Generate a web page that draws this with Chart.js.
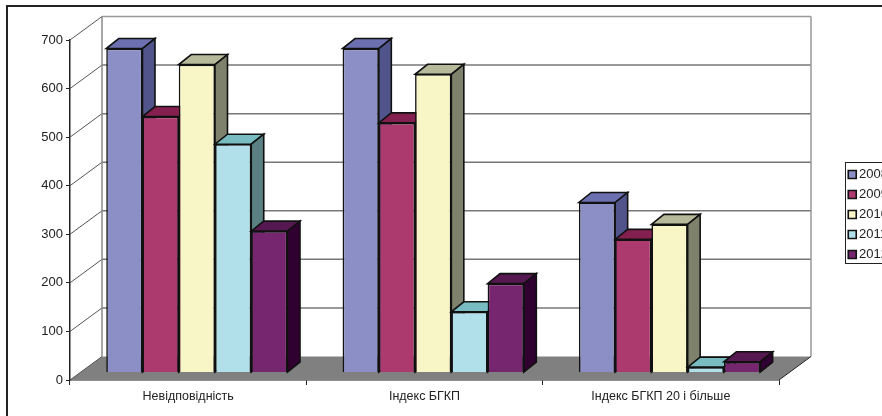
<!DOCTYPE html>
<html>
<head>
<meta charset="utf-8">
<style>
    html, body { margin: 0; height: 100%; background: #fff; overflow: hidden; }
    canvas { position: absolute; left: 0; top: 0; }
</style>
<script src="https://cdn.jsdelivr.net/npm/chart.js@4"></script>
</head>
<body>
<canvas id="indexChart" width="930" height="416"></canvas>
<script>
// =========================
// Data
// =========================

const categories = ['Невідповідність', 'Індекс БГКП', 'Індекс БГКП 20 і більше'];
const years = ['2008', '2009', '2010', '2011', '2012'];

const values2008 = [667, 667, 350];
const values2009 = [527, 514, 274];
const values2010 = [634, 614, 305];
const values2011 = [470, 125, 11];
const values2012 = [291, 183, 22];
const seriesValues = [values2008, values2009, values2010, values2011, values2012];

const yMax = 700;
const yStep = 100;

const frontColors = ['#8C8FC5', '#AD3A6F', '#F8F5C6', '#B1E0EB', '#76266F'];
const topColors = ['#6C6FB0', '#842050', '#B6B99A', '#78BCC1', '#561850'];
const sideColors = ['#50548A', '#5E1239', '#7E816B', '#5A8083', '#300030'];

// depth of the back wall and of one bar, in pixels
const wallDx = 32;
const wallDy = -23.5;
const barDx = 12.5;
const barDy = -10;
// bars stand part way between the front edge and the wall
const barShiftX = 8.7;
const barShiftY = -7.5;

function face(ctx, points, fill, stroke, lineWidth) {
    ctx.beginPath();
    points.forEach((p, i) => i ? ctx.lineTo(p[0], p[1]) : ctx.moveTo(p[0], p[1]));
    ctx.closePath();
    if (fill) {
        ctx.fillStyle = fill;
        ctx.fill();
    }
    if (stroke) {
        ctx.strokeStyle = stroke;
        ctx.lineWidth = lineWidth;
        ctx.stroke();
    }
}

function line(ctx, x1, y1, x2, y2, color, width) {
    ctx.beginPath();
    ctx.moveTo(x1, y1);
    ctx.lineTo(x2, y2);
    ctx.strokeStyle = color;
    ctx.lineWidth = width;
    ctx.stroke();
}

// =========================
// Walls, floor and 3D bars
// =========================

const box3d = {
    id: 'box3d',
    beforeDraw(chart) {
        const ctx = chart.ctx;
        ctx.save();
        ctx.strokeStyle = '#222';
        ctx.lineWidth = 2;
        ctx.strokeRect(7, 6, 1000, 600);
        ctx.restore();
    },
    afterLayout(chart) {
        // legend sits to the right of the plot
        const legend = chart.legend;
        legend.left = 845;
        legend.right = 945;
        legend.top = 161;
        legend.bottom = 416;
    },
    beforeDatasetsDraw(chart) {
        const ctx = chart.ctx;
        const area = chart.chartArea;
        const yScale = chart.scales.y;
        const y0 = yScale.getPixelForValue(0);

        ctx.save();
        // floor
        face(ctx, [
            [area.left, y0],
            [area.right, y0],
            [area.right + wallDx, y0 + wallDy],
            [area.left + wallDx, y0 + wallDy]
        ], '#808080');

        // wall grid and the slanted lines running back from the axis
        yScale.ticks.forEach((tick) => {
            const y = yScale.getPixelForValue(tick.value);
            line(ctx, area.left, y, area.left + wallDx, y + wallDy, '#555', 1);
            if (tick.value > 0) {
                const top = tick.value === yMax;
                line(ctx, area.left + wallDx, y + wallDy, area.right + wallDx, y + wallDy, top ? '#999' : '#777', 1.5);
            }
        });
        const yTop = yScale.getPixelForValue(yMax) + wallDy;
        line(ctx, area.left + wallDx, yTop, area.left + wallDx, y0 + wallDy, '#888', 1.5);
        line(ctx, area.right + wallDx, yTop, area.right + wallDx, y0 + wallDy, '#999', 1.5);
        line(ctx, area.right, y0, area.right + wallDx, y0 + wallDy, '#222', 1);

        // bars go left to right so each one covers the side of its neighbour
        ctx.translate(barShiftX, barShiftY);
        chart.data.datasets.forEach((dataset, d) => {
            chart.getDatasetMeta(d).data.forEach((bar) => {
                const left = bar.x - bar.width / 2;
                const right = bar.x + bar.width / 2;
                face(ctx, [
                    [left, bar.y],
                    [right, bar.y],
                    [right + barDx, bar.y + barDy],
                    [left + barDx, bar.y + barDy]
                ], topColors[d], '#111', 1.6);
                face(ctx, [
                    [right, bar.y],
                    [right + barDx, bar.y + barDy],
                    [right + barDx, bar.base + barDy],
                    [right, bar.base]
                ], sideColors[d], '#111', 1.6);
                bar.draw(ctx, area);
            });
        });
        ctx.restore();
        return false;
    },
    afterDraw(chart) {
        // frame around the legend
        const ctx = chart.ctx;
        ctx.save();
        ctx.strokeStyle = '#222';
        ctx.lineWidth = 1;
        ctx.strokeRect(845.5, 162.5, 100, 101);
        ctx.restore();
    }
};

// =========================
// Chart
// =========================

new Chart(document.getElementById('indexChart'), {
    type: 'bar',
    plugins: [box3d],
    data: {
        labels: categories,
        datasets: years.map((year, i) => ({
            label: year,
            data: seriesValues[i],
            backgroundColor: frontColors[i],
            borderColor: '#111',
            borderWidth: 1.6,
            categoryPercentage: 0.767,
            barPercentage: 1
        }))
    },
    options: {
        responsive: false,
        animation: false,
        layout: {
            autoPadding: false,
            padding: { left: 0, top: 40, right: 151, bottom: 0 }
        },
        plugins: {
            title: { display: false },
            tooltip: { enabled: false },
            legend: {
                position: 'chartArea',
                align: 'start',
                labels: {
                    usePointStyle: true,
                    pointStyle: 'rect',
                    boxWidth: 0.5,
                    boxHeight: 8,
                    padding: 7,
                    color: '#222',
                    font: { family: '"Liberation Sans"', size: 13, lineHeight: 1 }
                }
            }
        },
        scales: {
            x: {
                afterFit(scale) { scale.height = 36; },
                grid: { drawOnChartArea: false, color: '#222', tickLength: 5 },
                border: { color: '#222', width: 1.5 },
                ticks: {
                    color: '#222',
                    padding: 4,
                    maxRotation: 0,
                    font: { family: '"Liberation Sans"', size: 12.5 }
                }
            },
            y: {
                min: 0,
                max: yMax,
                afterFit(scale) { scale.width = 70; },
                grid: { drawOnChartArea: false, color: '#222', tickLength: 4 },
                border: { color: '#222', width: 1.5 },
                ticks: {
                    stepSize: yStep,
                    color: '#222',
                    padding: 3,
                    font: { family: '"Liberation Sans"', size: 13 }
                }
            }
        }
    }
});
</script>
</body>
</html>
